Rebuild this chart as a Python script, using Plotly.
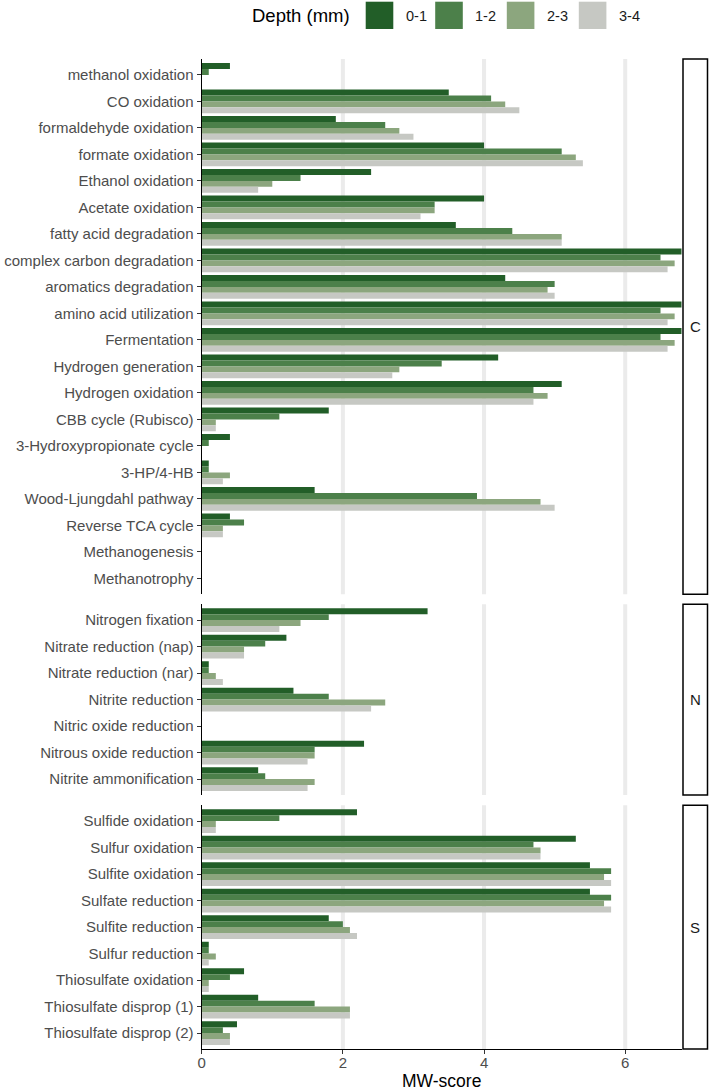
import plotly.graph_objects as go

W, H = 709, 1092

depths = ["0-1", "1-2", "2-3", "3-4"]
colors = ["#225E28", "#4C804A", "#8CA67E", "#C6C8C3"]

cats_C = ["methanol oxidation", "CO oxidation", "formaldehyde oxidation", "formate oxidation",
          "Ethanol oxidation", "Acetate oxidation", "fatty acid degradation",
          "complex carbon degradation", "aromatics degradation", "amino acid utilization",
          "Fermentation", "Hydrogen generation", "Hydrogen oxidation", "CBB cycle (Rubisco)",
          "3-Hydroxypropionate cycle", "3-HP/4-HB", "Wood-Ljungdahl pathway",
          "Reverse TCA cycle", "Methanogenesis", "Methanotrophy"]
C_d01 = [0.4, 3.5, 1.9, 4.0, 2.4, 4.0, 3.6, 6.8, 4.3, 6.8, 6.8, 4.2, 5.1, 1.8, 0.4, 0.1, 1.6, 0.4, 0, 0]
C_d12 = [0.1, 4.1, 2.6, 5.1, 1.4, 3.3, 4.4, 6.5, 5.0, 6.5, 6.5, 3.4, 4.7, 1.1, 0.1, 0.1, 3.9, 0.6, 0, 0]
C_d23 = [0.0, 4.3, 2.8, 5.3, 1.0, 3.3, 5.1, 6.7, 4.9, 6.7, 6.7, 2.8, 4.9, 0.2, 0.0, 0.4, 4.8, 0.3, 0, 0]
C_d34 = [0.0, 4.5, 3.0, 5.4, 0.8, 3.1, 5.1, 6.6, 5.0, 6.6, 6.6, 2.7, 4.7, 0.2, 0.0, 0.3, 5.0, 0.3, 0, 0]

cats_N = ["Nitrogen fixation", "Nitrate reduction (nap)", "Nitrate reduction (nar)",
          "Nitrite reduction", "Nitric oxide reduction", "Nitrous oxide reduction",
          "Nitrite ammonification"]
N_d01 = [3.2, 1.2, 0.1, 1.3, 0, 2.3, 0.8]
N_d12 = [1.8, 0.9, 0.1, 1.8, 0, 1.6, 0.9]
N_d23 = [1.4, 0.6, 0.2, 2.6, 0, 1.6, 1.6]
N_d34 = [1.1, 0.6, 0.3, 2.4, 0, 1.5, 1.5]

cats_S = ["Sulfide oxidation", "Sulfur oxidation", "Sulfite oxidation", "Sulfate reduction",
          "Sulfite reduction", "Sulfur reduction", "Thiosulfate oxidation",
          "Thiosulfate disprop (1)", "Thiosulfate disprop (2)"]
S_d01 = [2.2, 5.3, 5.5, 5.5, 1.8, 0.1, 0.6, 0.8, 0.5]
S_d12 = [1.1, 4.7, 5.8, 5.8, 2.0, 0.1, 0.4, 1.6, 0.3]
S_d23 = [0.2, 4.8, 5.7, 5.7, 2.1, 0.2, 0.1, 2.1, 0.4]
S_d34 = [0.2, 4.8, 5.8, 5.8, 2.2, 0.1, 0.1, 2.1, 0.4]

x_ticks = [0, 2, 4, 6]
x_max = 6.8
strip_labels = ["C", "N", "S"]
x_title = "MW-score"
legend_title = "Depth (mm)"

FONT = "Liberation Sans, Arial, sans-serif"


def px(x):
    return x / W


def py(y):
    return 1 - y / H


panels = [
    ("y", cats_C, [C_d01, C_d12, C_d23, C_d34], (59, 594.3)),
    ("y2", cats_N, [N_d01, N_d12, N_d23, N_d34], (604.2, 795)),
    ("y3", cats_S, [S_d01, S_d12, S_d23, S_d34], (805.2, 1049)),
]

fig = go.Figure()
layout = dict(
    width=W, height=H,
    margin=dict(l=0, r=0, t=0, b=0),
    paper_bgcolor="white", plot_bgcolor="white",
    barmode="group", bargap=0.1, bargroupgap=0,
    showlegend=False,
    font=dict(family=FONT),
)

x_dom = [px(201.7), px(681.7)]
layout["xaxis"] = dict(
    domain=x_dom, anchor="y3", range=[0, x_max], tickvals=x_ticks,
    ticks="outside", ticklen=4, tickwidth=1.1, tickcolor="#333333",
    ticklabelstandoff=-4,
    showline=True, linecolor="black", linewidth=1.3,
    showgrid=False, zeroline=False, automargin=False,
    tickfont=dict(size=15, color="#4D4D4D", family=FONT),
)

shapes = []
annotations = []
for i, (yname, cats, series, (top, bot)) in enumerate(panels):
    n = len(cats)
    key = "yaxis" if yname == "y" else "yaxis" + yname[1:]
    layout[key] = dict(
        domain=[py(bot), py(top)], anchor="x",
        type="category", categoryorder="array", categoryarray=cats,
        range=[n - 0.4, -0.6],
        ticks="outside", ticklen=4, tickwidth=1.1, tickcolor="#333333",
        showline=True, linecolor="black", linewidth=1.3,
        showgrid=False, zeroline=False, automargin=False,
        tickfont=dict(size=15, color="#4D4D4D", family=FONT),
    )
    for d, c, vals in zip(depths, colors, series):
        fig.add_trace(go.Bar(
            y=cats, x=vals, orientation="h", name=d,
            marker=dict(color=c, line=dict(width=0)),
            xaxis="x", yaxis=yname, showlegend=False,
        ))
    for v in x_ticks[1:]:
        shapes.append(dict(type="line", xref="x", yref=f"{yname} domain",
                           x0=v, x1=v, y0=0, y1=1, layer="below",
                           line=dict(color="#EBEBEB", width=4)))
    # strip
    shapes.append(dict(type="rect", xref="paper", yref="paper",
                       x0=px(683), x1=px(707.5), y0=py(bot), y1=py(top),
                       line=dict(color="black", width=1.5), fillcolor="white"))
    annotations.append(dict(text=strip_labels[i], xref="paper", yref="paper",
                            x=px(695.3), y=py((top + bot) / 2), showarrow=False,
                            xanchor="center", yanchor="middle",
                            font=dict(size=15, color="#1A1A1A", family=FONT)))

# x-axis title
annotations.append(dict(text=x_title, xref="paper", yref="paper",
                        x=px(441.7), y=0, showarrow=False,
                        xanchor="center", yanchor="bottom", borderpad=0,
                        font=dict(size=17.5, color="black", family=FONT)))

# legend (drawn manually for ggplot-like key size)
annotations.append(dict(text=legend_title, xref="paper", yref="paper",
                        x=px(249.5), y=py(15.5), showarrow=False,
                        xanchor="left", yanchor="middle",
                        font=dict(size=18.5, color="black", family=FONT)))
key_x = [365.7, 435.2, 506.8, 578.8]
for d, c, kx in zip(depths, colors, key_x):
    shapes.append(dict(type="rect", xref="paper", yref="paper",
                       x0=px(kx), x1=px(kx + 27.6), y0=py(29), y1=py(1.7),
                       line=dict(width=0), fillcolor=c))
    annotations.append(dict(text=d, xref="paper", yref="paper",
                            x=px(kx + 38), y=py(15.8), showarrow=False,
                            xanchor="left", yanchor="middle",
                            font=dict(size=14.5, color="#1A1A1A", family=FONT)))

layout["shapes"] = shapes
layout["annotations"] = annotations
fig.update_layout(**layout)

fig.write_html("out.html")
